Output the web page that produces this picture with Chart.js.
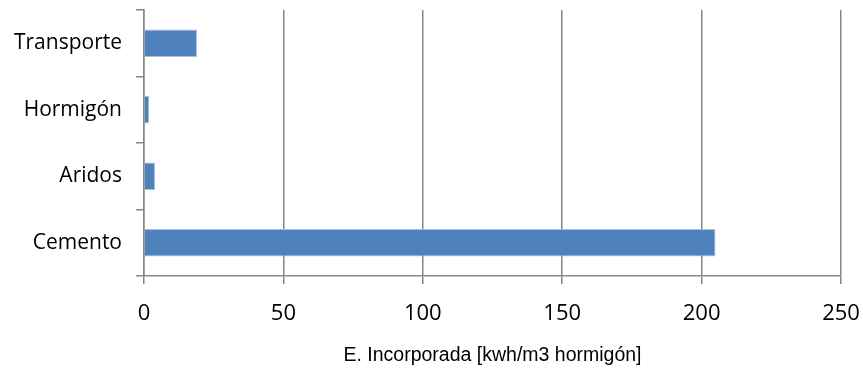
<!DOCTYPE html>
<html>
<head>
<meta charset="utf-8">
<script src="https://cdn.jsdelivr.net/npm/chart.js@4"></script>
<style>
  html, body { margin: 0; padding: 0; background: #fff; }
  #wrap { width: 863px; height: 374px; }
</style>
</head>
<body>
<div id="wrap"><canvas id="barChart" width="863" height="374"></canvas></div>
<script>
// Datos (de abajo hacia arriba)
const categorias = ['Cemento', 'Aridos', 'Hormigón', 'Transporte'];
const energia = [205, 4, 1.9, 19];
const ticksX = [0, 50, 100, 150, 200, 250];
const tituloX = 'E. Incorporada [kwh/m3 hormigón]';

const gris = '#868686';

new Chart(document.getElementById('barChart'), {
  type: 'bar',
  data: {
    labels: categorias,
    datasets: [{
      data: energia,
      backgroundColor: '#4f81bd',
      borderColor: '#a9c1e0',
      borderWidth: 1,
      barPercentage: 0.41,
      categoryPercentage: 1
    }]
  },
  options: {
    indexAxis: 'y',
    responsive: false,
    animation: false,
    layout: { padding: { top: 10, right: 22, bottom: 0, left: 0 } },
    plugins: { legend: { display: false }, tooltip: { enabled: false } },
    scales: {
      x: {
        min: ticksX[0],
        max: ticksX[ticksX.length - 1],
        afterBuildTicks: (axis) => { axis.ticks = ticksX.map(v => ({ value: v })); },
        afterFit: (axis) => { axis.height = 98; axis.paddingLeft = 0; axis.paddingRight = 0; },
        grid: { color: gris, lineWidth: 1.5, tickLength: 8, drawTicks: true },
        border: { color: gris, width: 1.5 },
        ticks: { color: '#000', font: { family: 'Open Sans', size: 22 }, padding: 17, maxRotation: 0 },
        title: { display: true, text: tituloX, color: '#000', font: { family: 'Liberation Sans', size: 19.5 }, padding: { top: 4, bottom: 7 } }
      },
      y: {
        reverse: true,
        afterFit: (axis) => { axis.width = 144; axis.paddingTop = 0; axis.paddingBottom = 0; },
        grid: { drawOnChartArea: false, offset: true, color: gris, lineWidth: 1.5, tickLength: 8 },
        border: { color: gris, width: 1.5 },
        ticks: { color: '#000', font: { family: 'Open Sans', size: 21 }, padding: 14 }
      }
    }
  }
});
</script>
</body>
</html>
